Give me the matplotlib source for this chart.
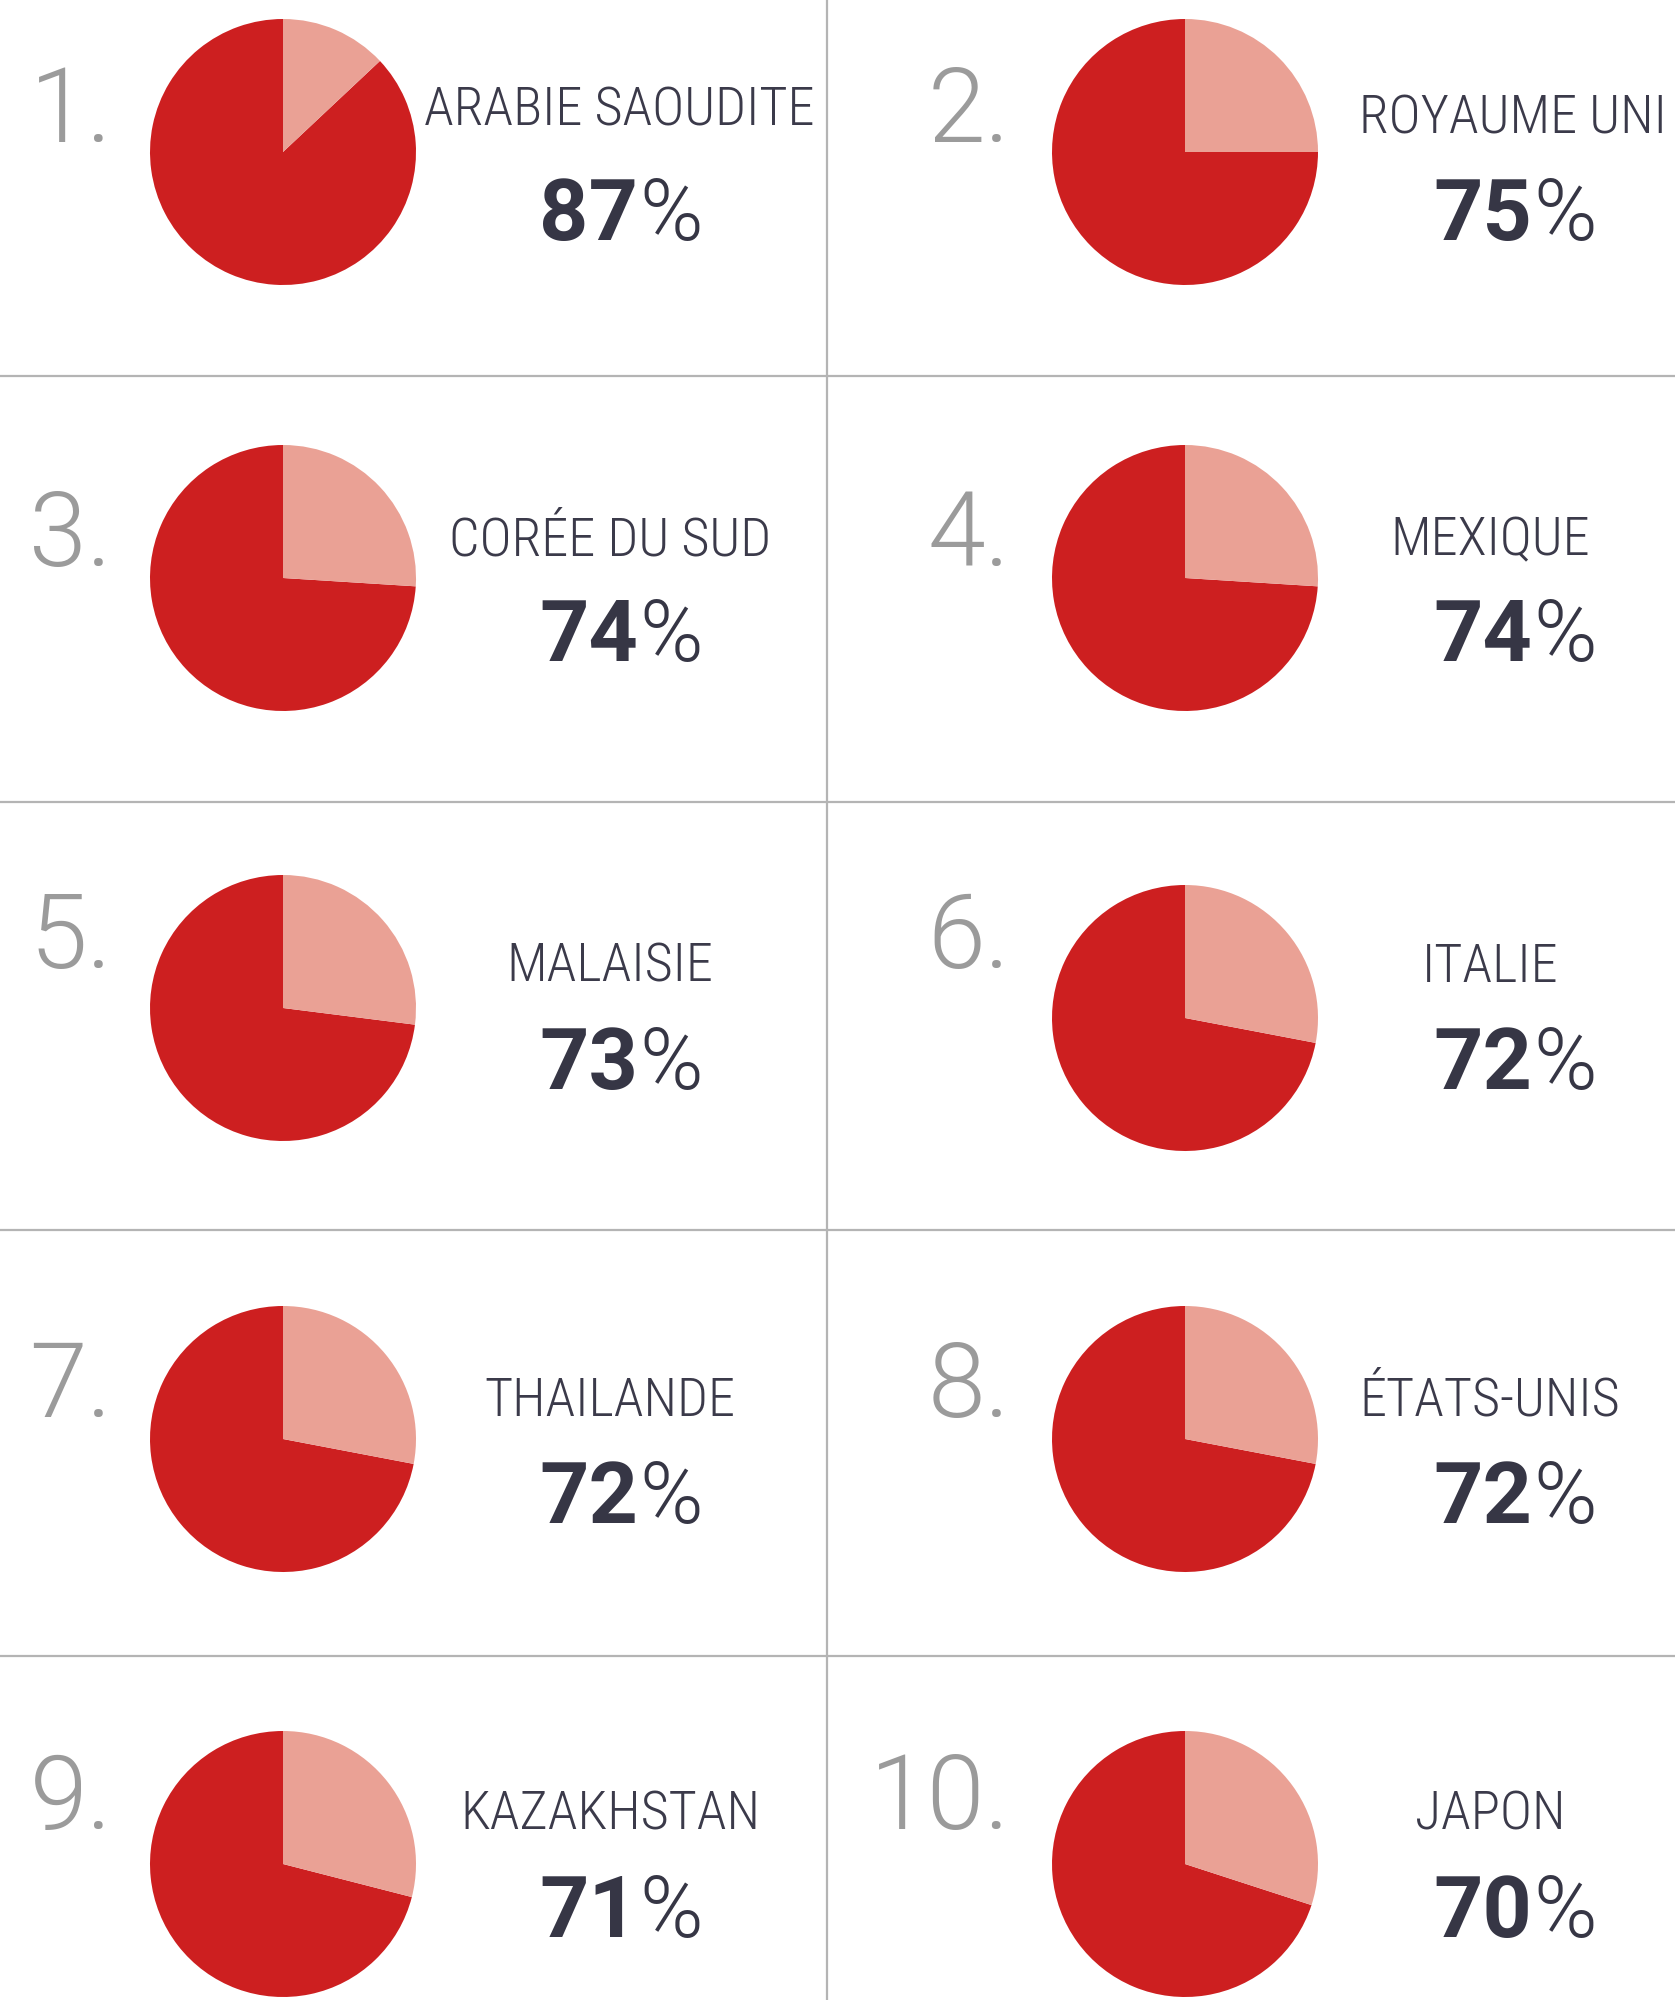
"""
Top 10 pays - camemberts en grille
"""

import matplotlib.pyplot as plt

plt.rcParams['font.family'] = ['Roboto', 'DejaVu Sans']

# données
ranks = ['1.', '2.', '3.', '4.', '5.', '6.', '7.', '8.', '9.', '10.']
countries = ['ARABIE SAOUDITE', 'ROYAUME UNI', 'CORÉE DU SUD', 'MEXIQUE',
             'MALAISIE', 'ITALIE', 'THAILANDE', 'ÉTATS-UNIS',
             'KAZAKHSTAN', 'JAPON']
values = [87, 75, 74, 74, 73, 72, 72, 72, 71, 70]

DARK = '#CD1F20'
LIGHT = '#EAA195'
LABEL_COLOR = '#3B3A4A'
PCT_COLOR = '#363645'
RANK_COLOR = '#9B9B9B'
LINE_COLOR = '#B4B4B4'

W, H = 1675, 2000

# mise en page (pixels depuis le haut)
col_pie_x = [283, 1185]
col_rank_x = [112, 1010]
col_text_x = [610, 1490]
col_pct_x = [619, 1513]
row_pie_y = [152, 578, 1008, 1439, 1864]
row_rank_y = [105, 529, 931, 1380, 1792]
row_label_y = [106, 536, 963, 1397, 1811]
row_pct_y = [210, 631, 1059, 1493, 1907]
radius = 133


def fy(y):
    return H - y


def main():
    fig = plt.figure(figsize=(W / 100, H / 100), dpi=100)
    ax = fig.add_axes([0, 0, 1, 1])

    for i, (rank, name, val) in enumerate(zip(ranks, countries, values)):
        row, col = divmod(i, 2)
        px = col_pie_x[col]
        py = row_pie_y[row]
        if i == 5:
            py += 10

        ax.pie([val, 100 - val], colors=[DARK, LIGHT], startangle=90,
               counterclock=True, center=(px, fy(py)), radius=radius,
               wedgeprops=dict(linewidth=0))

        ax.text(col_rank_x[col], fy(row_rank_y[row] + 37), rank,
                ha='right', va='baseline', fontsize=75, fontweight=300,
                color=RANK_COLOR)

        tx = col_text_x[col]
        ly = row_label_y[row]
        if i == 0:
            tx, ly = 619, 106
        if i == 1:
            tx, ly = 1513, 115
        ax.text(tx, fy(ly + 19), name, ha='center', va='baseline',
                fontsize=39, fontweight=300, color=LABEL_COLOR,
                family=['Roboto Condensed', 'Roboto'])

        pc = col_pct_x[col]
        ax.text(pc + 19, fy(row_pct_y[row] + 30), str(val), ha='right',
                va='baseline', fontsize=62, fontweight='bold', color=PCT_COLOR)
        ax.text(pc + 20, fy(row_pct_y[row] + 30), '%', ha='left',
                va='baseline', fontsize=62, fontweight=300, color=PCT_COLOR)

    # séparateurs
    for y in [376, 802, 1230, 1656]:
        ax.axhline(fy(y), color=LINE_COLOR, linewidth=1.6)
    ax.axvline(827, color=LINE_COLOR, linewidth=1.6)

    ax.set_xlim(0, W)
    ax.set_ylim(0, H)
    ax.set_aspect('auto')
    ax.axis('off')

    fig.savefig('out.png', dpi=100, facecolor='white')
    plt.close()


if __name__ == "__main__":
    main()
